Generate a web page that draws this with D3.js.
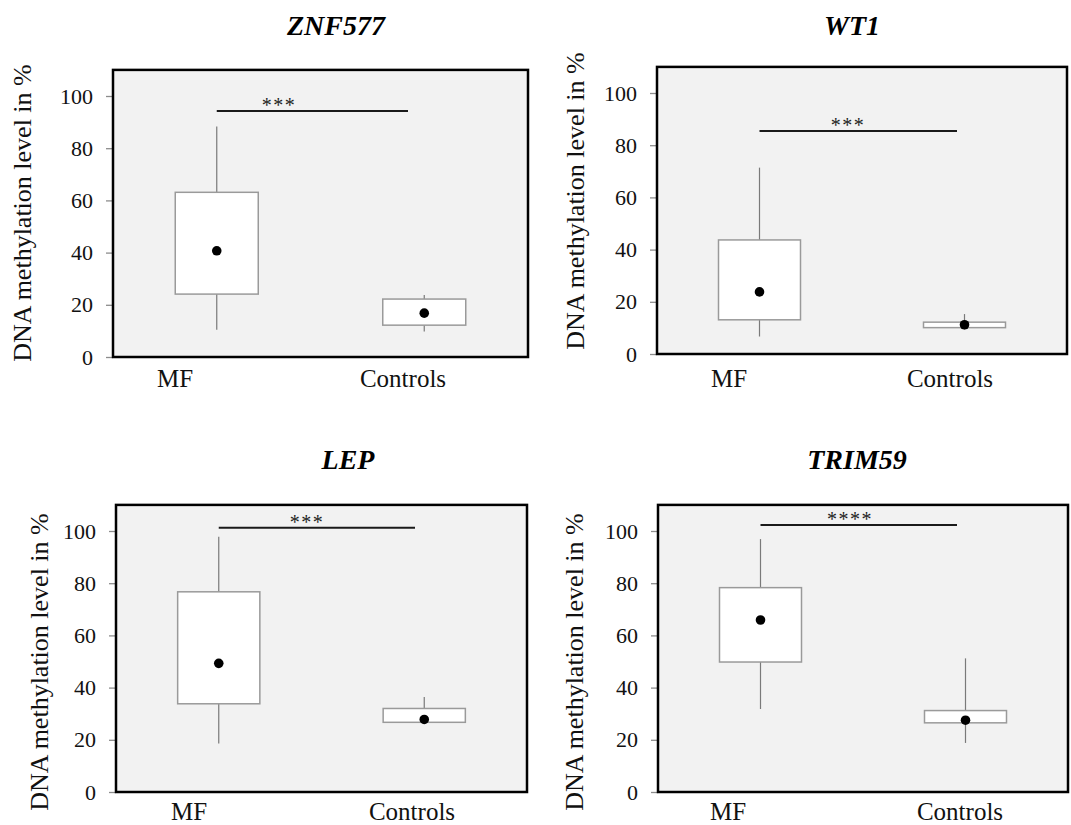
<!DOCTYPE html>
<html>
<head>
<meta charset="utf-8">
<script src="https://cdn.jsdelivr.net/npm/d3@7"></script>
<style>
    body { margin: 0; background: #ffffff; }
    svg { display: block; }
    svg text { font-family: "Liberation Serif", "DejaVu Serif", "Times New Roman", Times, serif; }
</style>
</head>
<body>
<svg id="chart"></svg>
<script>
// data (values in %)
const genes = ['ZNF577', 'WT1', 'LEP', 'TRIM59'];
const groups = ['MF', 'Controls'];
const yTicks = [0, 20, 40, 60, 80, 100];

const mfMin    = [10.4,  6.7, 18.6, 31.8];
const mfQ1     = [24.1, 13.1, 33.8, 49.8];
const mfCentre = [40.7, 23.8, 49.3, 65.9];
const mfQ3     = [63.1, 43.7, 76.7, 78.3];
const mfMax    = [88.3, 71.4, 97.8, 96.9];

const ctrlMin    = [ 9.8,  9.4, 26.7, 18.8];
const ctrlQ1     = [12.2, 10.1, 26.7, 26.5];
const ctrlCentre = [16.8, 11.2, 27.8, 27.5];
const ctrlQ3     = [22.2, 12.2, 32.0, 31.2];
const ctrlMax    = [23.8, 15.3, 36.4, 51.2];

const sigLevel = [94.3, 85.4, 101.2, 102.3];
const sigStars = ['***', '***', '***', '****'];

// where each panel sits on the page
const layout = [
    {left: 113, right: 528, bottom: 357, titleX: 336, titleY: 35, ylabX: 24, ylabY: 213, labX: [175, 403], labY: 387, barEnd: 408, starsX: 279},
    {left: 657, right: 1067, bottom: 354, titleX: 852, titleY: 35, ylabX: 577, ylabY: 201, labX: [729, 950], labY: 387, barEnd: 957, starsX: 848},
    {left: 116, right: 527, bottom: 792, titleX: 348, titleY: 469, ylabX: 41, ylabY: 662, labX: [189, 412], labY: 820, barEnd: 415, starsX: 307},
    {left: 658, right: 1068, bottom: 792, titleX: 857, titleY: 469, ylabX: 576, ylabY: 662, labX: [728, 960], labY: 820, barEnd: 957, starsX: 850}
];

class BoxPanel {
    constructor (config, data) {
        this.config = config;
        this.data = data;
        this.init();
    }

    init() {
        let self = this;
        let c = self.config;

        self.x = d3.scalePoint()
            .domain(groups)
            .range([c.left, c.right])
            .padding(0.5);

        // frame top is the 110 line, ~2.61px per unit
        self.y = d3.scaleLinear()
            .domain([0, 110])
            .range([c.bottom, c.bottom - 110 * 2.61]);

        self.g = c.svg.append('g');
    }

    render() {
        let self = this;
        let c = self.config;
        let top = self.y(110);
        let boxW = (c.right - c.left) * 0.2;

        self.g.append('rect')
            .attr('x', c.left)
            .attr('y', top)
            .attr('width', c.right - c.left)
            .attr('height', c.bottom - top)
            .attr('fill', '#f2f2f2');

        let axis = self.g.append('g')
            .attr('transform', `translate(${c.left},0)`)
            .call(d3.axisLeft(self.y).tickValues(yTicks).tickSize(7).tickPadding(13));
        axis.attr('font-family', null).attr('font-size', null);
        axis.select('.domain').remove();
        axis.selectAll('line').attr('stroke', '#8c8c8c').attr('stroke-width', 1.3);
        axis.selectAll('text')
            .attr('fill', '#111')
            .style('font-size', '22px');

        // whiskers
        self.g.selectAll('line.whisker')
            .data(self.data)
            .enter()
            .append('line')
            .attr('class', 'whisker')
            .attr('x1', d => self.x(d.group))
            .attr('x2', d => self.x(d.group))
            .attr('y1', d => self.y(d.min))
            .attr('y2', d => self.y(d.max))
            .attr('stroke', '#7a7a7a')
            .attr('stroke-width', 1.2);

        self.g.selectAll('rect.box')
            .data(self.data)
            .enter()
            .append('rect')
            .attr('class', 'box')
            .attr('x', d => self.x(d.group) - boxW / 2)
            .attr('y', d => self.y(d.q3))
            .attr('width', boxW)
            .attr('height', d => self.y(d.q1) - self.y(d.q3))
            .attr('fill', 'white')
            .attr('stroke', '#9a9a9a')
            .attr('stroke-width', 1.5);

        self.g.selectAll('circle')
            .data(self.data)
            .enter()
            .append('circle')
            .attr('cx', d => self.x(d.group))
            .attr('cy', d => self.y(d.centre))
            .attr('r', 4.8)
            .attr('fill', 'black');

        // significance bar
        let by = self.y(c.sig);
        self.g.append('line')
            .attr('x1', self.x('MF'))
            .attr('x2', c.barEnd)
            .attr('y1', by)
            .attr('y2', by)
            .attr('stroke', '#1a1a1a')
            .attr('stroke-width', 2);

        self.g.append('text')
            .attr('x', c.starsX)
            .attr('y', by + 1)
            .attr('text-anchor', 'middle')
            .attr('fill', '#222')
            .style('font-size', '20px')
            .style('letter-spacing', '1.5px')
            .text(c.stars);

        // frame
        self.g.append('rect')
            .attr('x', c.left)
            .attr('y', top)
            .attr('width', c.right - c.left)
            .attr('height', c.bottom - top)
            .attr('fill', 'none')
            .attr('stroke', 'black')
            .attr('stroke-width', 2.5);

        self.g.append('text')
            .attr('x', c.titleX)
            .attr('y', c.titleY)
            .attr('text-anchor', 'middle')
            .style('font-size', '28px')
            .style('font-weight', 'bold')
            .style('font-style', 'italic')
            .text(c.title);

        self.g.append('text')
            .attr('transform', `translate(${c.ylabX + 7},${c.ylabY}) rotate(-90)`)
            .attr('text-anchor', 'middle')
            .attr('fill', '#111')
            .style('font-size', '26px')
            .text('DNA methylation level in %');

        self.g.selectAll('text.xlab')
            .data(groups)
            .enter()
            .append('text')
            .attr('class', 'xlab')
            .attr('x', (d, i) => c.labX[i])
            .attr('y', c.labY)
            .attr('text-anchor', 'middle')
            .attr('fill', '#111')
            .style('font-size', '25px')
            .text(d => d);
    }
}

let svg = d3.select('#chart')
    .attr('width', 1071)
    .attr('height', 825);

genes.forEach((gene, i) => {
    let data = [
        {group: 'MF', min: mfMin[i], q1: mfQ1[i], centre: mfCentre[i], q3: mfQ3[i], max: mfMax[i]},
        {group: 'Controls', min: ctrlMin[i], q1: ctrlQ1[i], centre: ctrlCentre[i], q3: ctrlQ3[i], max: ctrlMax[i]}
    ];
    let panel = new BoxPanel(Object.assign({svg: svg, title: gene, sig: sigLevel[i], stars: sigStars[i]}, layout[i]), data);
    panel.render();
});
</script>
</body>
</html>
